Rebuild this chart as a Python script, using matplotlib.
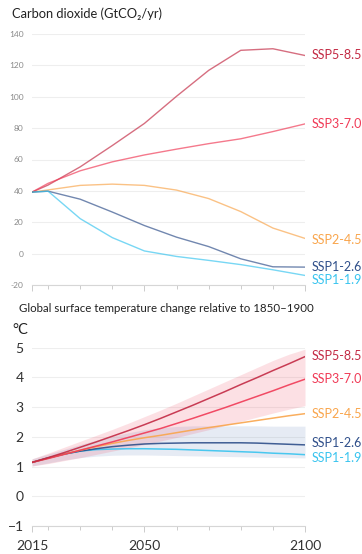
import numpy as np
import matplotlib.pyplot as plt
from matplotlib.ticker import FixedLocator

plt.rcParams['font.family'] = ['Lato', 'DejaVu Sans']

scenarios = ['SSP5-8.5', 'SSP3-7.0', 'SSP2-4.5', 'SSP1-2.6', 'SSP1-1.9']
colors = {
    'SSP5-8.5': '#c32a44',
    'SSP3-7.0': '#f03a56',
    'SSP2-4.5': '#f9a54c',
    'SSP1-2.6': '#2f4f8a',
    'SSP1-1.9': '#38c4ef',
}

# CO2 emissions, GtCO2/yr
co2_years = [2015, 2020, 2030, 2040, 2050, 2060, 2070, 2080, 2090, 2100]
co2 = {
    'SSP5-8.5': [39.2, 43.7, 55.3, 68.9, 83.0, 100.3, 116.8, 129.6, 130.6, 126.3],
    'SSP3-7.0': [39.2, 44.8, 52.8, 58.5, 62.9, 66.6, 70.1, 73.2, 77.8, 82.7],
    'SSP2-4.5': [39.2, 40.6, 43.5, 44.3, 43.5, 40.5, 35.1, 26.8, 16.3, 9.7],
    'SSP1-2.6': [39.2, 39.8, 34.7, 26.5, 17.9, 10.5, 4.5, -3.3, -8.4, -8.6],
    'SSP1-1.9': [39.2, 39.8, 22.3, 10.2, 1.7, -1.8, -4.3, -7.0, -10.3, -13.9],
}
co2_label_y = {'SSP5-8.5': 126.3, 'SSP3-7.0': 82.7, 'SSP2-4.5': 9.0,
               'SSP1-2.6': -8.3, 'SSP1-1.9': -16.8}

# global surface temperature change, degC
t_years = list(range(2015, 2101, 5))
temp = {
    'SSP5-8.5': [1.14, 1.30, 1.47, 1.65, 1.83, 2.02, 2.21, 2.41, 2.62, 2.84,
                 3.06, 3.29, 3.52, 3.76, 3.99, 4.23, 4.46, 4.70],
    'SSP3-7.0': [1.14, 1.27, 1.41, 1.55, 1.69, 1.83, 1.98, 2.13, 2.28, 2.45,
                 2.62, 2.80, 2.98, 3.17, 3.36, 3.55, 3.75, 3.94],
    'SSP2-4.5': [1.14, 1.28, 1.42, 1.55, 1.67, 1.78, 1.88, 1.97, 2.05, 2.14,
                 2.23, 2.31, 2.39, 2.47, 2.55, 2.63, 2.71, 2.78],
    'SSP1-2.6': [1.14, 1.29, 1.42, 1.52, 1.60, 1.67, 1.72, 1.76, 1.78, 1.79,
                 1.80, 1.80, 1.80, 1.80, 1.79, 1.77, 1.75, 1.73],
    'SSP1-1.9': [1.14, 1.29, 1.42, 1.52, 1.57, 1.59, 1.60, 1.60, 1.59, 1.58,
                 1.56, 1.54, 1.52, 1.50, 1.48, 1.45, 1.43, 1.40],
}
temp_label_y = {'SSP5-8.5': 4.72, 'SSP3-7.0': 3.95, 'SSP2-4.5': 2.78,
                'SSP1-2.6': 1.79, 'SSP1-1.9': 1.30}

# very likely ranges
ssp370_lo = [1.02, 1.10, 1.20, 1.30, 1.41, 1.52, 1.63, 1.74, 1.86, 1.98,
             2.11, 2.24, 2.38, 2.52, 2.66, 2.80, 2.93, 3.05]
ssp370_hi = [1.26, 1.45, 1.65, 1.85, 2.05, 2.25, 2.46, 2.68, 2.90, 3.13,
             3.37, 3.61, 3.85, 4.09, 4.33, 4.57, 4.78, 4.95]
ssp126_lo = [1.02, 1.12, 1.22, 1.30, 1.35, 1.38, 1.39, 1.39, 1.38, 1.37,
             1.36, 1.35, 1.34, 1.33, 1.32, 1.31, 1.30, 1.29]
ssp126_hi = [1.26, 1.42, 1.58, 1.74, 1.89, 2.02, 2.14, 2.24, 2.31, 2.35,
             2.37, 2.37, 2.37, 2.37, 2.37, 2.36, 2.36, 2.36]

W, H = 362, 554
fig = plt.figure(figsize=(W / 100, H / 100), dpi=100)


def axes_px(left, top, right, bottom):
    return fig.add_axes([left / W, 1 - bottom / H, (right - left) / W, (bottom - top) / H])


def style(ax, tick_size, tick_color):
    for s in ['top', 'right', 'left']:
        ax.spines[s].set_visible(False)
    ax.spines['bottom'].set_color('#d6d6d6')
    ax.spines['bottom'].set_linewidth(0.8)
    ax.set_xlim(2015, 2100)
    ax.grid(axis='y', color='#eeeeee', linewidth=0.8)
    ax.set_axisbelow(True)
    ax.xaxis.set_major_locator(FixedLocator([2015, 2050, 2100]))
    ax.xaxis.set_minor_locator(FixedLocator([2020, 2030, 2040, 2060, 2070, 2080, 2090]))
    ax.tick_params(axis='x', which='major', length=4, width=0.7, color='#cccccc')
    ax.tick_params(axis='x', which='minor', length=3, width=0.7, color='#cccccc')
    ax.tick_params(axis='y', length=0, labelsize=tick_size, labelcolor=tick_color)


# top panel: emissions
ax1 = axes_px(32, 34, 305, 285)
style(ax1, 6, '#8a8a8a')
ax1.set_ylim(-20, 140)
ax1.set_yticks(range(-20, 141, 20))
ax1.set_yticklabels([str(v) for v in range(-20, 141, 20)])
ax1.tick_params(axis='y', pad=6)
ax1.tick_params(axis='x', which='both', labelbottom=False)
for s in scenarios:
    ax1.plot(co2_years, co2[s], color=colors[s], lw=1.0, alpha=0.68)
    ax1.annotate(s, (2100, co2_label_y[s]), xytext=(4.5, 0), textcoords='offset points',
                 va='center', ha='left', fontsize=9, color=colors[s], annotation_clip=False)

# bottom panel: temperature
ax2 = axes_px(32, 347.7, 305, 526)
style(ax2, 10, '#333333')
ax2.set_ylim(-1, 5)
ax2.set_yticks(range(-1, 6))
ax2.set_yticklabels(['\u22121', '0', '1', '2', '3', '4', '5'])
ax2.tick_params(axis='y', pad=6)
ax2.tick_params(axis='x', which='major', labelsize=10, labelcolor='#333333', pad=6)
ax2.fill_between(t_years, ssp126_lo, ssp126_hi, color='#5b7fb8', alpha=0.15, lw=0)
ax2.fill_between(t_years, ssp370_lo, ssp370_hi, color='#f04a62', alpha=0.17, lw=0)
for s in scenarios[::-1]:
    ax2.plot(t_years, temp[s], color=colors[s], lw=1.1, alpha=0.9)
for s in scenarios:
    ax2.annotate(s, (2100, temp_label_y[s]), xytext=(4.5, 0), textcoords='offset points',
                 va='center', ha='left', fontsize=9, color=colors[s], annotation_clip=False)

fig.text(12 / W, 1 - 14 / H, 'Carbon dioxide (GtCO\u2082/yr)', fontsize=9.3,
         color='#222222', va='center', ha='left')
fig.text(19 / W, 1 - 308 / H, 'Global surface temperature change relative to 1850\u20131900',
         fontsize=8.3, color='#222222', va='center', ha='left')
fig.text(12 / W, 1 - 330 / H, '\u00b0C', fontsize=10.5, color='#222222', va='center', ha='left')

fig.savefig('out.png', dpi=100)
